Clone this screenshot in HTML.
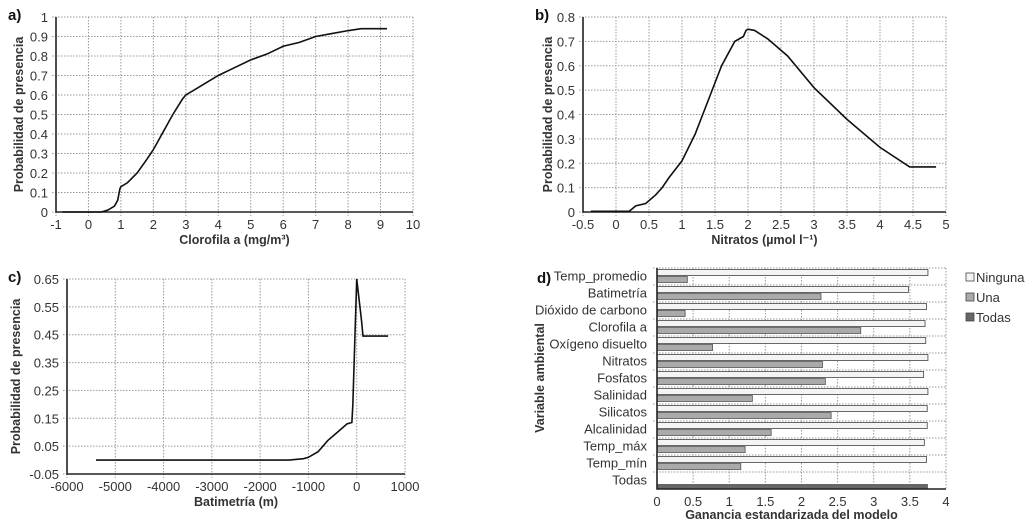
<!DOCTYPE html>
<html><head><meta charset="utf-8"><style>
body{margin:0;background:#fff;width:1026px;height:524px;overflow:hidden}
svg{font-family:"Liberation Sans",sans-serif;fill:#222}
.tk{font-size:13px;fill:#333}
.ti{font-size:12.5px;font-weight:bold;fill:#333}
.pl{font-size:15px;font-weight:bold;fill:#111}
</style></head><body>
<svg id="s" width="1026" height="524"></svg>
<script>
const aX=[-0.8,0.4,0.6,0.8,0.9,0.97,1.0,1.2,1.5,1.8,2.0,2.3,2.6,2.9,3.0,3.3,3.7,4.0,4.5,5.0,5.5,6.0,6.5,7.0,7.5,8.0,8.4,8.8,9.2];
const aY=[0,0,0.01,0.03,0.06,0.12,0.13,0.15,0.2,0.27,0.32,0.41,0.5,0.58,0.6,0.63,0.67,0.7,0.74,0.78,0.81,0.85,0.87,0.9,0.915,0.93,0.94,0.94,0.94];
const bX=[-0.38,0.0,0.2,0.3,0.45,0.6,0.7,0.8,1.0,1.2,1.4,1.6,1.8,1.93,1.97,2.0,2.1,2.3,2.6,3.0,3.5,4.0,4.45,4.85];
const bY=[0.003,0.003,0.003,0.025,0.035,0.07,0.1,0.14,0.21,0.32,0.46,0.6,0.7,0.72,0.745,0.75,0.745,0.71,0.64,0.51,0.38,0.265,0.185,0.185];
const cX=[-5400,-1400,-1100,-1000,-800,-600,-400,-200,-100,-80,0,100,130,650];
const cY=[0,0,0.005,0.01,0.03,0.07,0.1,0.13,0.135,0.2,0.65,0.5,0.445,0.445];
const dCats=["Temp_promedio","Batimetría","Dióxido de carbono","Clorofila a","Oxígeno disuelto","Nitratos","Fosfatos","Salinidad","Silicatos","Alcalinidad","Temp_máx","Temp_mín","Todas"];
const dNinguna=[3.75,3.48,3.73,3.71,3.72,3.75,3.69,3.75,3.74,3.74,3.70,3.73,null];
const dUna=[0.42,2.27,0.39,2.82,0.77,2.29,2.33,1.32,2.41,1.58,1.22,1.16,null];
const dTodas=[null,null,null,null,null,null,null,null,null,null,null,null,3.75];
const aTicksX=[-1,0,1,2,3,4,5,6,7,8,9,10], aTicksY=[0,0.1,0.2,0.3,0.4,0.5,0.6,0.7,0.8,0.9,1];
const bTicksX=[-0.5,0,0.5,1,1.5,2,2.5,3,3.5,4,4.5,5], bTicksY=[0,0.1,0.2,0.3,0.4,0.5,0.6,0.7,0.8];
const cTicksX=[-6000,-5000,-4000,-3000,-2000,-1000,0,1000], cTicksY=[-0.05,0.05,0.15,0.25,0.35,0.45,0.55,0.65];
const dTicksX=[0,0.5,1,1.5,2,2.5,3,3.5,4];

const S=document.getElementById('s'),NS="http://www.w3.org/2000/svg";
function mk(t,a,txt){const e=document.createElementNS(NS,t);for(const k in a)e.setAttribute(k,a[k]);if(txt!=null)e.textContent=txt;S.appendChild(e);return e;}
function lineChart(o){
 const sx=v=>o.x0+(v-o.xt[0])/(o.xt[o.xt.length-1]-o.xt[0])*(o.x1-o.x0);
 const sy=v=>o.y0-(v-o.yt[0])/(o.yt[o.yt.length-1]-o.yt[0])*(o.y0-o.y1);
 o.xt.forEach(v=>{const g=mk('line',{x1:sx(v),x2:sx(v),y1:o.y1,y2:o.y0+4,stroke:'#999','stroke-dasharray':'1.5,1.5'});
  
  const t=mk('text',{x:sx(v),y:o.y0+17,'text-anchor':'middle',class:'tk'},String(v));
  });
 o.yt.forEach(v=>{const g=mk('line',{x1:o.x0-4,x2:o.x1,y1:sy(v),y2:sy(v),stroke:'#999','stroke-dasharray':'1.5,1.5'});
  
  const t=mk('text',{x:o.x0-8,y:sy(v)+5,'text-anchor':'end',class:'tk'},String(v));
  });
 const ax=mk('path',{d:`M${o.x0},${o.y1}V${o.y0}H${o.x1}`,fill:'none',stroke:'#222','stroke-width':1.6});
 
 const p=mk('polyline',{points:o.xs.map((x,i)=>sx(x)+','+sy(o.ys[i])).join(' '),fill:'none',stroke:'#111','stroke-width':1.6});
 
 const xt=mk('text',{x:(o.x0+o.x1)/2,y:o.y0+32,'text-anchor':'middle',class:'ti'},o.xl);
 
 const cy=(o.y0+o.y1)/2;
 const yt=mk('text',{x:o.ytx,y:cy,'text-anchor':'middle',class:'ti',transform:`rotate(-90 ${o.ytx} ${cy})`},'Probabilidad de presencia');
 
 const pl=mk('text',{x:o.plx,y:o.ply,class:'pl'},o.pl);
 
}
lineChart({x0:56,x1:413,y0:212,y1:17,xt:aTicksX,yt:aTicksY,xs:aX,ys:aY,xl:'Clorofila a (mg/m³)',ytx:23,pl:'a)',plx:8,ply:20});
lineChart({x0:583,x1:946,y0:212,y1:17,xt:bTicksX,yt:bTicksY,xs:bX,ys:bY,xl:'Nitratos (µmol l⁻¹)',ytx:552,pl:'b)',plx:535,ply:20});
lineChart({x0:67,x1:405,y0:474,y1:279,xt:cTicksX,yt:cTicksY,xs:cX,ys:cY,xl:'Batimetría (m)',ytx:20,pl:'c)',plx:8,ply:282});

const dx0=657,dx1=946,dy1=268,dy0=489;
const dsx=v=>dx0+v/dTicksX[dTicksX.length-1]*(dx1-dx0);
const band=(dy0-dy1)/dCats.length;
dTicksX.forEach(v=>{if(v>0){const g=mk('line',{x1:dsx(v),x2:dsx(v),y1:dy1,y2:dy0,stroke:'#999','stroke-dasharray':'1.5,1.5'});
 }
 const t=mk('text',{x:dsx(v),y:dy0+17,'text-anchor':'middle',class:'tk'},String(v));
 });
dCats.forEach((c,i)=>{const yb=dy1+i*band;
 const g=mk('line',{x1:dx0-4,x2:dx1,y1:yb,y2:yb,stroke:'#999','stroke-dasharray':'1.5,1.5'});
 
 const t=mk('text',{x:dx0-10,y:yb+band/2+4,'text-anchor':'end',class:'tk'},c);
 
 if(dNinguna[i]!=null){const r=mk('rect',{x:dx0,y:yb+1.5,width:dsx(dNinguna[i])-dx0,height:6,fill:'#f4f4f4',stroke:'#444','stroke-width':0.8});
  }
 if(dUna[i]!=null){const r=mk('rect',{x:dx0,y:yb+8.5,width:dsx(dUna[i])-dx0,height:6,fill:'#aaa',stroke:'#555','stroke-width':0.8});
  }
 if(dTodas[i]!=null){const r=mk('rect',{x:dx0,y:yb+band-5,width:dsx(dTodas[i])-dx0,height:5,fill:'#666'});
  }
});
const dax=mk('path',{d:`M${dx0},${dy1}V${dy0}H${dx1}`,fill:'none',stroke:'#222','stroke-width':1.6});

const dxt=mk('text',{x:(dx0+dx1)/2-10,y:dy0+30,'text-anchor':'middle',class:'ti'},'Ganancia estandarizada del modelo');

const dyt=mk('text',{x:544,y:378,'text-anchor':'middle',class:'ti',transform:'rotate(-90 544 378)'},'Variable ambiental');

const dpl=mk('text',{x:537,y:283,class:'pl'},'d)');

[['Ninguna','#f4f4f4'],['Una','#aaa'],['Todas','#666']].forEach((l,i)=>{const y=277+i*20;
 const r=mk('rect',{x:966,y:y-4,width:8,height:8,fill:l[1],stroke:'#444','stroke-width':0.8});
 
 const t=mk('text',{x:976,y:y+5,class:'tk'},l[0]);
 });
</script>
</body></html>
